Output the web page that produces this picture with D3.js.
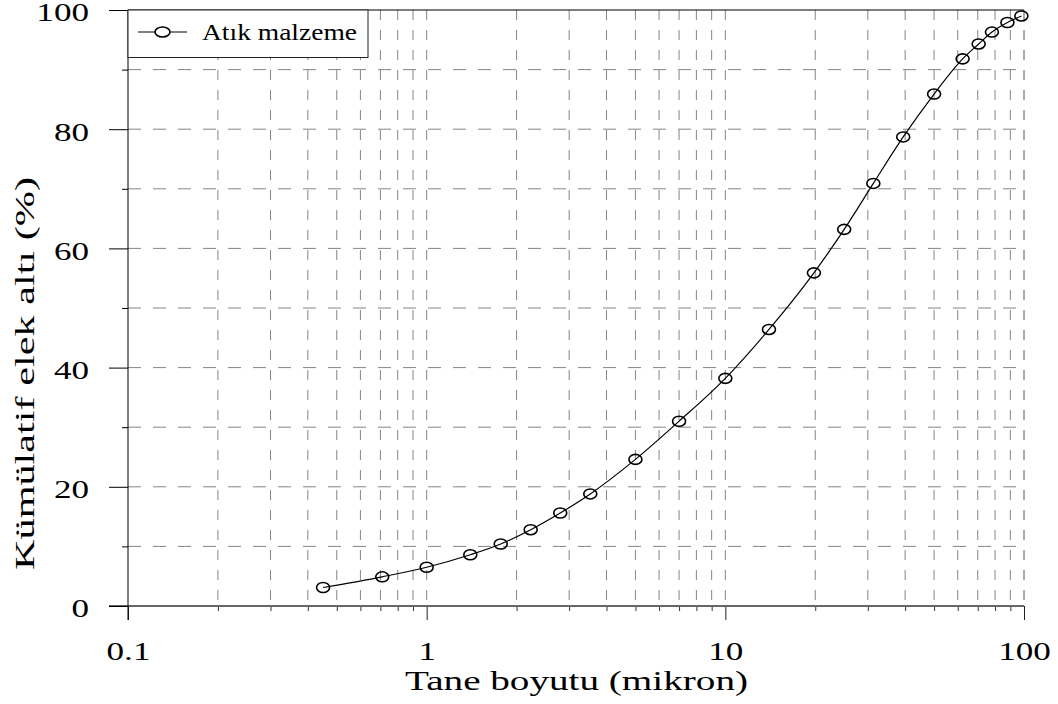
<!DOCTYPE html>
<html><head><meta charset="utf-8">
<script src="https://cdn.jsdelivr.net/npm/d3@7"></script>
<style>body{margin:0;background:#fff}</style>
</head><body>
<svg id="c" width="1058" height="704"></svg>
<script>
const sizes = [0.45,0.71,1,1.4,1.77,2.23,2.8,3.53,5,7,10,14,19.8,25,31.3,39.4,50,62.3,70.5,78.1,88,98];
const passing = [3.1,4.9,6.5,8.6,10.4,12.8,15.6,18.8,24.6,31.0,38.2,46.4,55.9,63.2,70.9,78.7,85.9,91.8,94.3,96.3,97.9,99.0];
const seriesName = "Atık malzeme";
const xTicks = [0.1,1,10,100];
const yTicks = [0,20,40,60,80,100];
const xLabel = "Tane boyutu (mikron)";
const yLabel = "Kümülatif elek altı (%)";

const L=128,R=1024,T=10,B=606;
const x = d3.scaleLog().domain([0.1,100]).range([L,R]);
const y = d3.scaleLinear().domain([0,100]).range([B,T]);
const svg = d3.select("#c");
const font = "Liberation Serif";

const xMinor = [];
for (const d of [0.1,1,10]) for (let k=2;k<=9;k++) xMinor.push(+(d*k).toFixed(3));
const yMinor = d3.range(10,100,20);
const yGrid = d3.range(10,100,10);

// grid
svg.append("g").selectAll("line").data(yGrid).join("line")
  .attr("x1",L).attr("x2",R).attr("y1",d=>y(d)).attr("y2",d=>y(d))
  .attr("stroke","#858585").attr("stroke-width",1).attr("stroke-dasharray","13,12");
svg.append("g").selectAll("line").data(xMinor.concat([1,10,100])).join("line")
  .attr("x1",d=>x(d)).attr("x2",d=>x(d)).attr("y1",T).attr("y2",B)
  .attr("stroke",d=>d===100?"#555":"#858585").attr("stroke-width",1).attr("stroke-dasharray","10,10");

// x axis
const gx = svg.append("g").attr("transform",`translate(0,${B})`);
gx.call(d3.axisBottom(x).tickValues(xTicks).tickSize(14).tickFormat(d3.format("~g")));
gx.attr("font-family",null).attr("font-size",null);
gx.select(".domain").remove();
gx.selectAll(".tick line").attr("stroke","#222");
gx.selectAll(".tick text").attr("y",null).attr("dy",null)
  .attr("transform","translate(0,54) scale(1.35,1)")
  .style("font-family",font).style("font-size","26px").attr("fill","#000");
const gxm = svg.append("g").attr("transform",`translate(0,${B})`);
gxm.call(d3.axisBottom(x).tickValues(xMinor).tickSize(5).tickFormat(""));
gxm.select(".domain").remove();
gxm.selectAll(".tick line").attr("stroke","#333");
svg.append("line").attr("x1",L-19).attr("x2",R).attr("y1",B).attr("y2",B)
  .attr("stroke","#666").attr("stroke-width",2);

// y axis
const gy = svg.append("g").attr("transform",`translate(${L},0)`);
gy.call(d3.axisLeft(y).tickValues(yTicks).tickSize(19).tickFormat(d3.format("d")));
gy.attr("font-family",null).attr("font-size",null);
gy.select(".domain").remove();
gy.selectAll(".tick line").attr("stroke","#000");
gy.selectAll(".tick text").attr("x",null).attr("dy","0.42em")
  .attr("transform","translate(-39,0) scale(1.35,1)")
  .style("font-family",font).style("font-size","26px").attr("fill","#000");
const gym = svg.append("g").attr("transform",`translate(${L},0)`);
gym.call(d3.axisLeft(y).tickValues(yMinor).tickSize(6).tickFormat(""));
gym.select(".domain").remove();
gym.selectAll(".tick line").attr("stroke","#000");
svg.append("line").attr("x1",L).attr("x2",L).attr("y1",T).attr("y2",B+14).attr("stroke","#000");
svg.append("line").attr("x1",L).attr("x2",R).attr("y1",T).attr("y2",T).attr("stroke","#000");

// series
const data = sizes.map((s,i)=>({s, p:passing[i]}));
svg.append("path").datum(data)
  .attr("d", d3.line().x(d=>x(d.s)).y(d=>y(d.p)).curve(d3.curveMonotoneX))
  .attr("fill","none").attr("stroke","#000").attr("stroke-width",1.2);
svg.append("g").selectAll("ellipse").data(data).join("ellipse")
  .attr("cx",d=>x(d.s)).attr("cy",d=>y(d.p)).attr("rx",6.5).attr("ry",5)
  .attr("fill","none").attr("stroke","#000").attr("stroke-width",1.6);

// legend
const lg = svg.append("g");
lg.append("rect").attr("x",L).attr("y",T).attr("width",240).attr("height",47.5)
  .attr("fill","#fff").attr("stroke","#222").attr("stroke-width",1);
lg.append("line").attr("x1",138).attr("x2",187).attr("y1",32).attr("y2",32).attr("stroke","#000").attr("stroke-width",1.2);
lg.append("ellipse").attr("cx",162.5).attr("cy",32).attr("rx",7.5).attr("ry",5)
  .attr("fill","#fff").attr("stroke","#000").attr("stroke-width",1.6);
lg.append("text").attr("x",202).attr("y",40).text(seriesName)
  .style("font-family",font).style("font-size","23px").attr("textLength",155).attr("lengthAdjust","spacingAndGlyphs");

// axis titles
svg.append("text").attr("x",(405+748)/2).attr("y",690).attr("text-anchor","middle").text(xLabel)
  .style("font-family",font).style("font-size","27px").attr("textLength",343).attr("lengthAdjust","spacingAndGlyphs");
svg.append("text").attr("transform",`translate(34,${(177+570)/2}) rotate(-90)`).attr("text-anchor","middle").text(yLabel)
  .style("font-family",font).style("font-size","28px").attr("textLength",393).attr("lengthAdjust","spacingAndGlyphs");
</script>
</body></html>
